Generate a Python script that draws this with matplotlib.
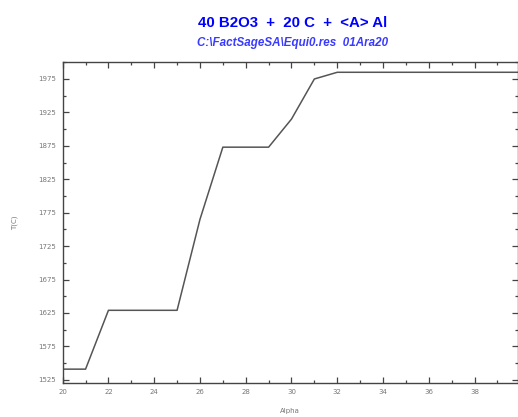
import matplotlib
matplotlib.use("Agg")
import matplotlib.pyplot as plt
from matplotlib.ticker import MultipleLocator

# data
alpha = [20, 21, 22, 25, 26, 27, 29, 30, 31, 32, 40]
temp = [1541, 1541, 1629, 1629, 1765, 1873, 1873, 1915, 1975, 1985, 1985]

title = "40 B2O3  +  20 C  +  <A> Al"
subtitle = "C:\\FactSageSA\\Equi0.res  01Ara20"

fig = plt.figure(figsize=(5.18, 4.17), dpi=100)
ax = fig.add_axes([0.121, 0.0827, 0.879, 0.768])

ax.plot(alpha, temp, '-', color='#555555', linewidth=1.1)

ax.set_xlim(20, 39.9)
ax.set_ylim(1521, 2000)
ax.xaxis.set_major_locator(MultipleLocator(2))
ax.xaxis.set_minor_locator(MultipleLocator(1))
ax.yaxis.set_major_locator(MultipleLocator(50))
ax.yaxis.set_minor_locator(MultipleLocator(25))
ax.set_yticks([1525 + 50 * i for i in range(10)])

ax.tick_params(which='both', direction='in', top=True, right=True,
               colors='#444444', labelcolor='#777777', labelsize=5)
ax.tick_params(which='major', length=4, width=0.9, pad=5)
ax.tick_params(which='minor', length=2, width=0.9)
for s in ax.spines.values():
    s.set_color('#444444')
    s.set_linewidth(1.0)

ax.set_xlabel("Alpha", fontsize=5, color='#777777', labelpad=9)
ax.set_ylabel("T(C)", fontsize=5, color='#777777', labelpad=14)

fig.text(0.564, 0.945, title, ha='center', va='center', color='#0000ff',
         fontsize=10.8, fontweight='bold', family='Liberation Sans')
fig.text(0.564, 0.897, subtitle, ha='center', va='center', color='#3a3aff',
         fontsize=8.4, fontweight='bold', style='italic', family='Liberation Sans')

fig.savefig("out.png", dpi=100)
